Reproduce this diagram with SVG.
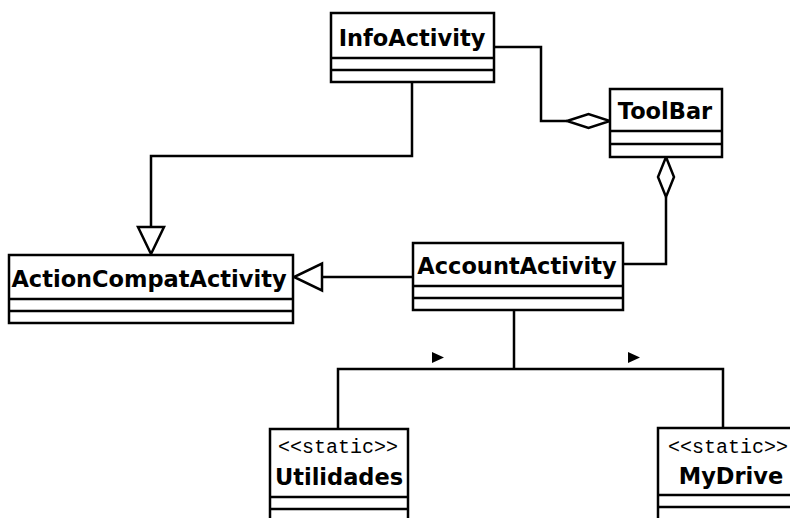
<svg xmlns="http://www.w3.org/2000/svg" width="790" height="518" viewBox="0 0 790 518">
<style>
.box{fill:#fff;stroke:#000;stroke-width:2.5}
.sep{stroke:#000;stroke-width:2.5}
.name{font-family:"DejaVu Sans","Verdana",sans-serif;font-weight:bold;font-size:22.5px;fill:#000;text-anchor:middle}
.stereo{font-family:"Liberation Mono","Courier New",monospace;font-size:20px;fill:#000;text-anchor:middle}
.edge{fill:none;stroke:#000;stroke-width:2.5}
.hollow{fill:#fff;stroke:#000;stroke-width:2.5}
.solid{fill:#000;stroke:none}
</style>
<rect width="790" height="518" fill="#fff"/>
<g id="connectors">
  <path class="edge" d="M494,47 H541 V121 H567"/>
  <polygon class="hollow" points="567,121 588.5,114 610,121 588.5,128"/>
  <path class="edge" d="M666,197 V264 H623"/>
  <polygon class="hollow" points="666,157 674,177 666,197 658,177"/>
  <path class="edge" d="M412,82 V156 H151 V227"/>
  <polygon class="hollow" points="138,227 164,227 151,254"/>
  <path class="edge" d="M413,277 H322"/>
  <polygon class="hollow" points="322,263.5 322,290.5 294,277"/>
  <path class="edge" d="M514,310 V369 H338 V429 M514,369 H723 V428"/>
  <polygon class="solid" points="432,352 444,357.5 432,363"/>
  <polygon class="solid" points="628,352 640,357.5 628,363"/>
</g>
<g id="InfoActivity">
  <rect class="box" x="331" y="13" width="163" height="69"/>
  <line class="sep" x1="331" y1="58" x2="494" y2="58"/>
  <line class="sep" x1="331" y1="70" x2="494" y2="70"/>
  <text class="name" x="412" y="46">InfoActivity</text>
</g>
<g id="ToolBar">
  <rect class="box" x="610" y="89" width="112" height="68"/>
  <line class="sep" x1="610" y1="131" x2="722" y2="131"/>
  <line class="sep" x1="610" y1="144" x2="722" y2="144"/>
  <text class="name" x="665" y="119">ToolBar</text>
</g>
<g id="ActionCompatActivity">
  <rect class="box" x="9" y="255" width="284" height="68"/>
  <line class="sep" x1="9" y1="299" x2="293" y2="299"/>
  <line class="sep" x1="9" y1="311" x2="293" y2="311"/>
  <text class="name" x="149" y="287">ActionCompatActivity</text>
</g>
<g id="AccountActivity">
  <rect class="box" x="413" y="243" width="210" height="67"/>
  <line class="sep" x1="413" y1="286" x2="623" y2="286"/>
  <line class="sep" x1="413" y1="298" x2="623" y2="298"/>
  <text class="name" x="517" y="274">AccountActivity</text>
</g>
<g id="Utilidades">
  <rect class="box" x="270" y="429" width="138" height="100"/>
  <line class="sep" x1="270" y1="497" x2="408" y2="497"/>
  <line class="sep" x1="270" y1="509" x2="408" y2="509"/>
  <text class="stereo" x="338" y="453">&lt;&lt;static&gt;&gt;</text>
  <text class="name" x="339" y="485">Utilidades</text>
</g>
<g id="MyDrive">
  <rect class="box" x="658" y="428" width="140" height="100"/>
  <line class="sep" x1="658" y1="495" x2="798" y2="495"/>
  <line class="sep" x1="658" y1="507" x2="798" y2="507"/>
  <text class="stereo" x="728" y="453">&lt;&lt;static&gt;&gt;</text>
  <text class="name" x="731" y="484">MyDrive</text>
</g>
</svg>
